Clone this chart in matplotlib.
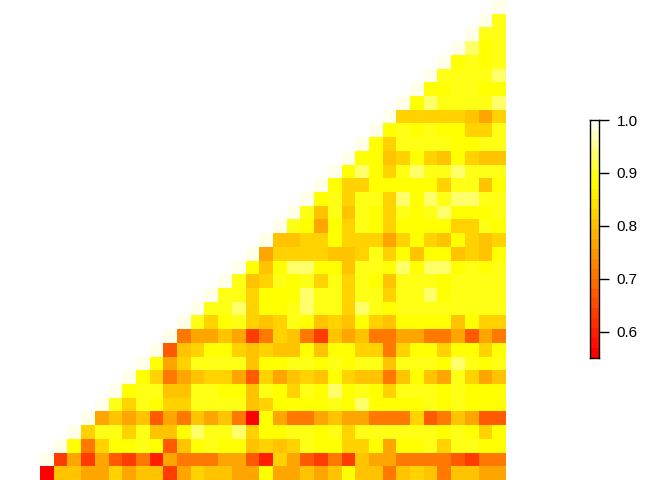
import numpy as np
import matplotlib
matplotlib.use("Agg")
import matplotlib.pyplot as plt
import colorsys
from matplotlib.colors import ListedColormap, BoundaryNorm

# Off-diagonal values per row (top row first); each row ends at the right edge.
# Rows 1..34 are preceded by a diagonal cell equal to 1.0; the last row has none.
row_values = [
    [],
    [0.90],
    [0.90, 0.90],
    [0.94, 0.88, 0.90],
    [0.88, 0.90, 0.88, 0.90],
    [0.90, 0.90, 0.90, 0.90, 0.94],
    [0.88, 0.88, 0.90, 0.90, 0.88, 0.88],
    [0.88, 0.94, 0.90, 0.90, 0.90, 0.90, 0.94],
    [0.83, 0.83, 0.83, 0.83, 0.83, 0.80, 0.76, 0.83],
    [0.88, 0.90, 0.88, 0.90, 0.88, 0.88, 0.83, 0.83, 0.90],
    [0.88, 0.83, 0.90, 0.90, 0.90, 0.90, 0.88, 0.88, 0.90, 0.90],
    [0.88, 0.88, 0.80, 0.83, 0.88, 0.83, 0.80, 0.88, 0.83, 0.80, 0.80],
    [0.88, 0.94, 0.88, 0.83, 0.90, 0.94, 0.90, 0.90, 0.94, 0.90, 0.90, 0.90],
    [0.88, 0.83, 0.83, 0.88, 0.88, 0.88, 0.88, 0.88, 0.83, 0.90, 0.90, 0.80, 0.88],
    [0.88, 0.90, 0.83, 0.90, 0.90, 0.83, 0.94, 0.88, 0.94, 0.90, 0.94, 0.94, 0.90, 0.90],
    [0.90, 0.80, 0.90, 0.80, 0.90, 0.88, 0.83, 0.90, 0.88, 0.90, 0.94, 0.88, 0.88, 0.88, 0.90],
    [0.90, 0.88, 0.76, 0.88, 0.83, 0.90, 0.88, 0.83, 0.88, 0.88, 0.88, 0.88, 0.83, 0.83, 0.90, 0.88],
    [0.80, 0.80, 0.83, 0.83, 0.88, 0.83, 0.83, 0.83, 0.76, 0.83, 0.88, 0.83, 0.80, 0.88, 0.83, 0.80, 0.83],
    [0.76, 0.83, 0.83, 0.83, 0.83, 0.80, 0.80, 0.83, 0.90, 0.83, 0.88, 0.80, 0.88, 0.88, 0.80, 0.83, 0.80, 0.88],
    [0.88, 0.80, 0.88, 0.94, 0.94, 0.88, 0.88, 0.80, 0.90, 0.90, 0.88, 0.94, 0.88, 0.94, 0.94, 0.88, 0.90, 0.88, 0.90],
    [0.90, 0.80, 0.83, 0.90, 0.88, 0.90, 0.83, 0.90, 0.83, 0.90, 0.88, 0.80, 0.90, 0.90, 0.90, 0.88, 0.90, 0.90, 0.90, 0.90],
    [0.90, 0.90, 0.83, 0.88, 0.88, 0.88, 0.94, 0.90, 0.90, 0.83, 0.90, 0.90, 0.83, 0.90, 0.90, 0.94, 0.88, 0.90, 0.90, 0.90, 0.90],
    [0.90, 0.90, 0.94, 0.83, 0.88, 0.88, 0.90, 0.94, 0.90, 0.90, 0.83, 0.94, 0.90, 0.88, 0.90, 0.90, 0.90, 0.90, 0.90, 0.90, 0.90, 0.90],
    [0.90, 0.83, 0.88, 0.90, 0.83, 0.80, 0.83, 0.90, 0.88, 0.80, 0.83, 0.80, 0.88, 0.83, 0.80, 0.88, 0.88, 0.88, 0.88, 0.80, 0.88, 0.83, 0.83],
    [0.71, 0.76, 0.76, 0.80, 0.76, 0.63, 0.71, 0.83, 0.80, 0.71, 0.63, 0.80, 0.76, 0.80, 0.71, 0.71, 0.76, 0.76, 0.71, 0.71, 0.76, 0.67, 0.76, 0.71],
    [0.67, 0.80, 0.83, 0.88, 0.88, 0.83, 0.80, 0.83, 0.80, 0.80, 0.88, 0.80, 0.88, 0.88, 0.83, 0.83, 0.71, 0.83, 0.88, 0.88, 0.83, 0.88, 0.88, 0.83, 0.88],
    [0.88, 0.76, 0.83, 0.90, 0.90, 0.90, 0.90, 0.80, 0.88, 0.88, 0.90, 0.90, 0.88, 0.90, 0.88, 0.90, 0.90, 0.80, 0.90, 0.90, 0.90, 0.88, 0.94, 0.90, 0.88, 0.90],
    [0.88, 0.83, 0.71, 0.76, 0.80, 0.83, 0.83, 0.76, 0.67, 0.83, 0.76, 0.80, 0.83, 0.80, 0.88, 0.83, 0.80, 0.80, 0.71, 0.80, 0.88, 0.80, 0.76, 0.90, 0.83, 0.76, 0.80],
    [0.88, 0.90, 0.90, 0.80, 0.80, 0.90, 0.90, 0.88, 0.88, 0.80, 0.90, 0.88, 0.83, 0.90, 0.88, 0.94, 0.88, 0.90, 0.88, 0.83, 0.90, 0.90, 0.90, 0.88, 0.90, 0.88, 0.88, 0.88],
    [0.90, 0.83, 0.90, 0.88, 0.83, 0.83, 0.90, 0.90, 0.90, 0.90, 0.80, 0.83, 0.88, 0.88, 0.88, 0.88, 0.90, 0.88, 0.94, 0.88, 0.88, 0.88, 0.88, 0.90, 0.88, 0.90, 0.88, 0.88, 0.88],
    [0.76, 0.80, 0.76, 0.80, 0.67, 0.76, 0.71, 0.80, 0.76, 0.80, 0.71, 0.55, 0.88, 0.76, 0.71, 0.71, 0.76, 0.80, 0.76, 0.76, 0.71, 0.71, 0.71, 0.83, 0.67, 0.71, 0.80, 0.76, 0.67, 0.67],
    [0.83, 0.90, 0.90, 0.83, 0.90, 0.80, 0.80, 0.88, 0.94, 0.90, 0.90, 0.94, 0.83, 0.88, 0.88, 0.90, 0.90, 0.88, 0.90, 0.83, 0.90, 0.90, 0.90, 0.90, 0.90, 0.90, 0.88, 0.90, 0.88, 0.83, 0.88],
    [0.88, 0.71, 0.83, 0.88, 0.88, 0.90, 0.88, 0.67, 0.80, 0.88, 0.90, 0.88, 0.88, 0.80, 0.83, 0.80, 0.83, 0.90, 0.88, 0.88, 0.83, 0.83, 0.88, 0.76, 0.88, 0.88, 0.90, 0.83, 0.90, 0.90, 0.88, 0.88],
    [0.63, 0.76, 0.63, 0.76, 0.67, 0.63, 0.71, 0.60, 0.76, 0.71, 0.71, 0.71, 0.76, 0.76, 0.67, 0.60, 0.83, 0.76, 0.67, 0.63, 0.71, 0.63, 0.80, 0.76, 0.76, 0.71, 0.71, 0.71, 0.71, 0.67, 0.63, 0.71, 0.71],
    [0.55, 0.80, 0.80, 0.76, 0.76, 0.83, 0.76, 0.80, 0.80, 0.63, 0.76, 0.83, 0.80, 0.80, 0.76, 0.76, 0.88, 0.76, 0.76, 0.80, 0.76, 0.80, 0.88, 0.80, 0.80, 0.71, 0.80, 0.83, 0.80, 0.71, 0.80, 0.80, 0.76, 0.76],
]
diag_value = 1.0
cbar_ticks = [0.6, 0.7, 0.8, 0.9, 1.0]
n_colors = 24


def heat_colors(n):
    j = n // 4
    i = n - j
    cols = [colorsys.hsv_to_rgb(h, 1.0, 1.0) for h in np.linspace(0, 1 / 6, i)]
    if j > 0:
        for s in np.linspace(1 - 1 / (2 * j), 1 / (2 * j), j):
            cols.append(colorsys.hsv_to_rgb(1 / 6, s, 1.0))
    return cols


n_rows = len(row_values)
n_cols = len(row_values[-1])
M = np.full((n_rows, n_cols), np.nan)
for r, vals in enumerate(row_values):
    full = list(vals)
    if r < n_rows - 1:
        full = [diag_value] + full
    if full:
        M[r, n_cols - len(full):] = full

all_vals = M[~np.isnan(M)]
zmin, zmax = all_vals.min(), all_vals.max()
bounds = np.linspace(zmin, zmax, n_colors + 1)
cmap = ListedColormap(heat_colors(n_colors))
norm = BoundaryNorm(bounds, cmap.N)

fig = plt.figure(figsize=(6.72, 4.8), dpi=100)
ax = fig.add_axes([40 / 672, 0.0, 466 / 672, 1.0])
ax.pcolormesh(np.arange(n_cols + 1), np.arange(n_rows + 1),
              np.ma.masked_invalid(M), cmap=cmap, norm=norm)
ax.set_xlim(0, n_cols)
ax.set_ylim(n_rows, 0)
ax.axis("off")

# colour key
cax = fig.add_axes([589.5 / 672, (480 - 358) / 480, 9 / 672, 238 / 480])
cax.pcolormesh([0, 1], bounds, bounds[:-1].reshape(-1, 1), cmap=cmap, norm=norm)
cax.set_xlim(0, 1)
cax.set_ylim(zmin, zmax)
cax.set_xticks([])
cax.yaxis.tick_right()
cax.set_yticks(cbar_ticks)
cax.set_yticklabels([f"{t:.1f}" for t in cbar_ticks])
cax.tick_params(axis="y", length=7.2, width=1, pad=6, labelsize=11)
for lab in cax.get_yticklabels():
    lab.set_family(["Liberation Sans", "DejaVu Sans"])
for sp in cax.spines.values():
    sp.set_linewidth(1)

fig.savefig("out.png", dpi=100)
